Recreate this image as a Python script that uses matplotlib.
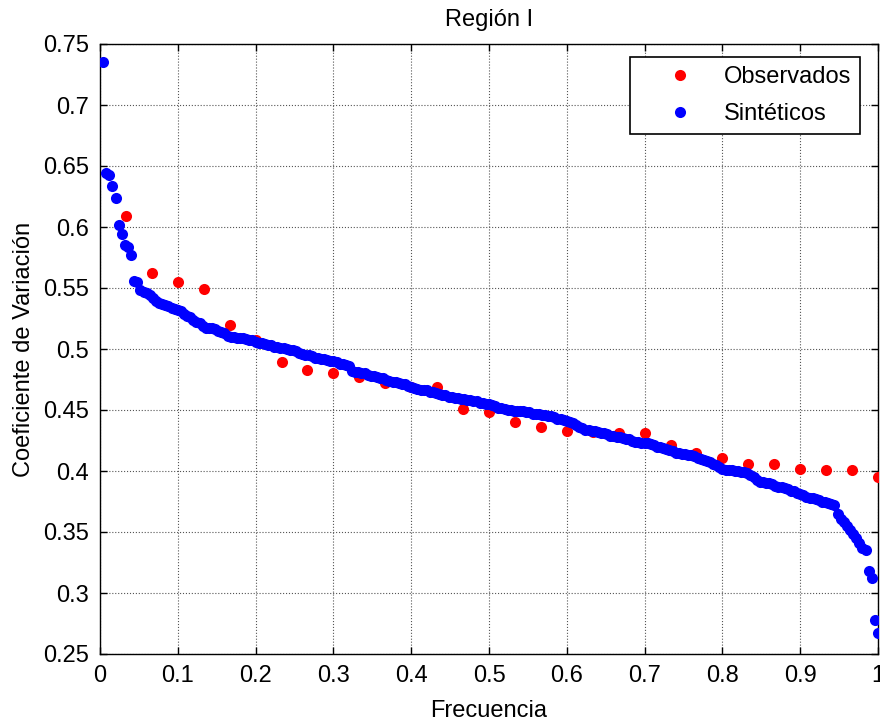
import numpy as np
import matplotlib
matplotlib.use("Agg")
import matplotlib.pyplot as plt

# Datos observados (30 valores) y sinteticos (250 valores), ordenados
obs_cv = [0.609, 0.562, 0.555, 0.549, 0.520, 0.507, 0.489, 0.483, 0.480, 0.477,
          0.472, 0.469, 0.469, 0.451, 0.448, 0.440, 0.436, 0.433, 0.432, 0.431,
          0.431, 0.421, 0.415, 0.411, 0.406, 0.406, 0.402, 0.401, 0.401, 0.395]

sint_cv = [0.735, 0.644, 0.643, 0.634, 0.624, 0.602, 0.594, 0.585, 0.584, 0.577,
           0.556, 0.555, 0.548, 0.547, 0.546, 0.544, 0.542, 0.539, 0.538, 0.537,
           0.536, 0.535, 0.534, 0.533, 0.532, 0.531, 0.529, 0.527, 0.526, 0.524,
           0.522, 0.521, 0.519, 0.517, 0.517, 0.517, 0.516, 0.515, 0.514, 0.513,
           0.511, 0.510, 0.510, 0.509, 0.509, 0.509, 0.508, 0.507, 0.507, 0.506,
           0.505, 0.505, 0.504, 0.503, 0.503, 0.502, 0.502, 0.501, 0.501, 0.500,
           0.499, 0.499, 0.498, 0.497, 0.496, 0.495, 0.495, 0.494, 0.493, 0.493,
           0.492, 0.492, 0.491, 0.490, 0.490, 0.489, 0.488, 0.488, 0.487, 0.486,
           0.482, 0.481, 0.481, 0.480, 0.480, 0.479, 0.478, 0.478, 0.477, 0.476,
           0.476, 0.475, 0.474, 0.473, 0.473, 0.472, 0.471, 0.471, 0.470, 0.469,
           0.468, 0.467, 0.466, 0.466, 0.466, 0.465, 0.465, 0.464, 0.463, 0.462,
           0.462, 0.461, 0.461, 0.460, 0.460, 0.459, 0.459, 0.458, 0.458, 0.457,
           0.457, 0.456, 0.456, 0.455, 0.455, 0.454, 0.453, 0.452, 0.452, 0.451,
           0.450, 0.450, 0.449, 0.449, 0.449, 0.449, 0.448, 0.448, 0.447, 0.447,
           0.447, 0.446, 0.446, 0.445, 0.445, 0.444, 0.443, 0.443, 0.442, 0.441,
           0.440, 0.439, 0.438, 0.436, 0.435, 0.434, 0.434, 0.433, 0.433, 0.432,
           0.431, 0.431, 0.430, 0.429, 0.429, 0.428, 0.428, 0.427, 0.426, 0.426,
           0.425, 0.424, 0.424, 0.423, 0.423, 0.423, 0.422, 0.421, 0.420, 0.420,
           0.419, 0.418, 0.417, 0.416, 0.415, 0.415, 0.414, 0.414, 0.413, 0.413,
           0.412, 0.411, 0.410, 0.409, 0.408, 0.407, 0.406, 0.405, 0.403, 0.402,
           0.401, 0.401, 0.401, 0.400, 0.400, 0.399, 0.399, 0.398, 0.397, 0.395,
           0.393, 0.391, 0.391, 0.390, 0.390, 0.389, 0.388, 0.387, 0.387, 0.386,
           0.385, 0.384, 0.384, 0.382, 0.381, 0.380, 0.379, 0.378, 0.378, 0.377,
           0.376, 0.375, 0.375, 0.374, 0.373, 0.372, 0.365, 0.361, 0.358, 0.355,
           0.352, 0.348, 0.345, 0.341, 0.337, 0.335, 0.318, 0.312, 0.278, 0.267]

# frecuencia = posicion / n
obs_f = np.arange(1, len(obs_cv) + 1) / len(obs_cv)
sint_f = np.arange(1, len(sint_cv) + 1) / len(sint_cv)

xticks = [0, 0.1, 0.2, 0.3, 0.4, 0.5, 0.6, 0.7, 0.8, 0.9, 1]
xticklabels = ['0', '0.1', '0.2', '0.3', '0.4', '0.5', '0.6', '0.7', '0.8', '0.9', '1']
yticks = [0.25, 0.3, 0.35, 0.4, 0.45, 0.5, 0.55, 0.6, 0.65, 0.7, 0.75]
yticklabels = ['0.25', '0.3', '0.35', '0.4', '0.45', '0.5', '0.55', '0.6', '0.65', '0.7', '0.75']

plt.rcParams['font.family'] = ['Liberation Sans', 'DejaVu Sans']

fig = plt.figure(figsize=(8.8, 7.23), dpi=100)
ax = fig.add_axes([100 / 880, 69 / 723, 778 / 880, 610 / 723])

ax.plot(obs_f, obs_cv, 'o', color='red', markersize=8, markeredgewidth=0,
        label='Observados', zorder=3)
ax.plot(sint_f, sint_cv, 'o', color='blue', markersize=8, markeredgewidth=0,
        label='Sintéticos', zorder=3)

ax.set_xlim(0, 1)
ax.set_ylim(0.25, 0.75)
ax.set_xticks(xticks)
ax.set_xticklabels(xticklabels)
ax.set_yticks(yticks)
ax.set_yticklabels(yticklabels)
ax.tick_params(direction='in', top=True, right=True, length=5, width=1,
               pad=8, labelsize=17)
ax.grid(True, linestyle=':', color='#555555', linewidth=0.8)
for s in ax.spines.values():
    s.set_linewidth(1)
    s.set_color('black')

ax.set_title('Región I', fontsize=17, pad=13)
ax.set_xlabel('Frecuencia', fontsize=17, labelpad=9)
ax.set_ylabel('Coeficiente de Variación', fontsize=17, labelpad=6)

leg = ax.legend(loc='upper right', bbox_to_anchor=(760 / 778, 597 / 610),
                borderaxespad=0, fancybox=False, framealpha=1,
                edgecolor='black', handlelength=3.5, handletextpad=0.1,
                borderpad=0.38, labelspacing=0.65, fontsize=17)
leg.get_frame().set_linewidth(1.2)

fig.savefig('out.png', dpi=100)
